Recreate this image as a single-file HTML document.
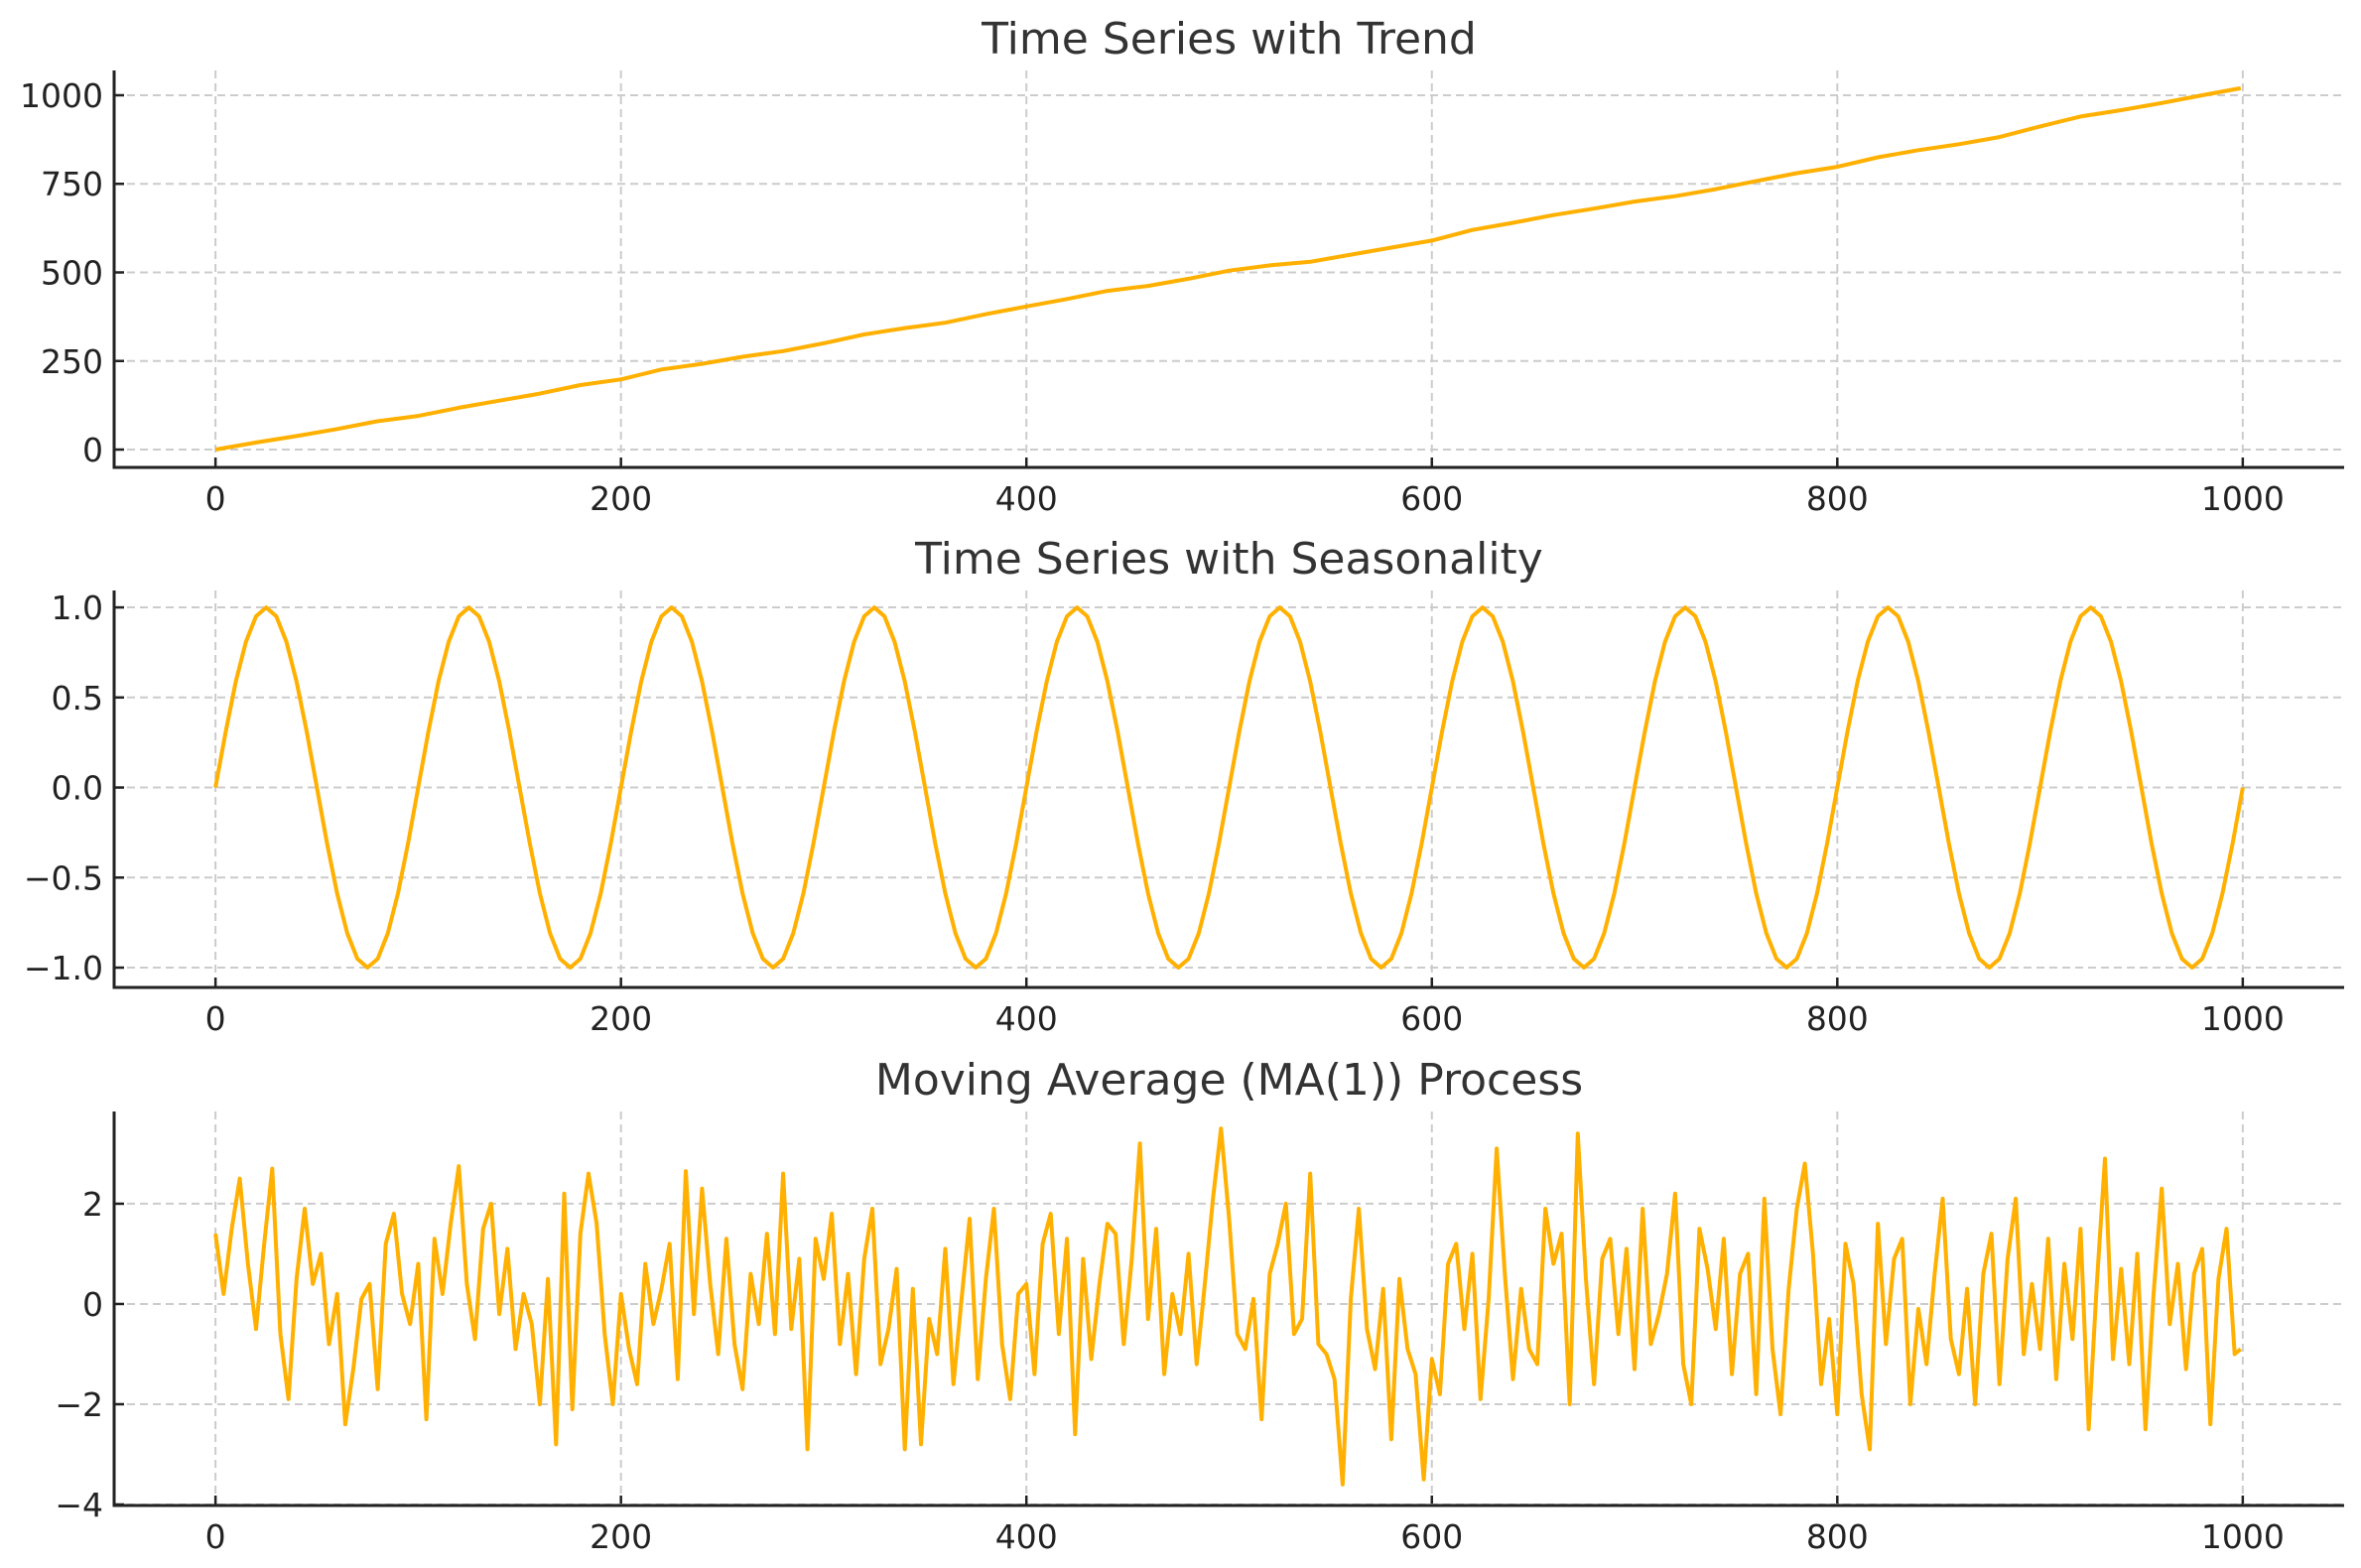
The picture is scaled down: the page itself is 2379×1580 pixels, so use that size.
<!DOCTYPE html>
<html><head><meta charset="utf-8"><style>html,body{margin:0;padding:0;background:#fff}svg{display:block}</style></head>
<body>
<svg id="chart" xmlns="http://www.w3.org/2000/svg" width="2379" height="1580" viewBox="0 0 2379 1580" font-family="'DejaVu Sans','Liberation Sans',sans-serif"></svg>
<script>
const xTicks = [0, 200, 400, 600, 800, 1000];
const trendX = [0,20,40,60,80,100,120,140,160,180,200,220,240,260,280,300,320,340,360,380,400,420,440,460,480,500,520,540,560,580,600,620,640,660,680,700,720,740,760,780,800,820,840,860,880,900,920,940,960,980,999];
const trendY = [0,20,38,58,80,95,118,138,158,182,198,226,242,262,278,300,325,343,358,382,404,425,448,462,482,505,520,530,550,570,590,620,640,662,680,700,715,735,758,780,798,825,845,862,882,912,940,958,978,1000,1020];
const trendTicks = [0, 250, 500, 750, 1000];
const seasonY = [0,.309,.588,.809,.951,1,.951,.809,.588,.309,0,-.309,-.588,-.809,-.951,-1,-.951,-.809,-.588,-.309,
0,.309,.588,.809,.951,1,.951,.809,.588,.309,0,-.309,-.588,-.809,-.951,-1,-.951,-.809,-.588,-.309,
0,.309,.588,.809,.951,1,.951,.809,.588,.309,0,-.309,-.588,-.809,-.951,-1,-.951,-.809,-.588,-.309,
0,.309,.588,.809,.951,1,.951,.809,.588,.309,0,-.309,-.588,-.809,-.951,-1,-.951,-.809,-.588,-.309,
0,.309,.588,.809,.951,1,.951,.809,.588,.309,0,-.309,-.588,-.809,-.951,-1,-.951,-.809,-.588,-.309,
0,.309,.588,.809,.951,1,.951,.809,.588,.309,0,-.309,-.588,-.809,-.951,-1,-.951,-.809,-.588,-.309,
0,.309,.588,.809,.951,1,.951,.809,.588,.309,0,-.309,-.588,-.809,-.951,-1,-.951,-.809,-.588,-.309,
0,.309,.588,.809,.951,1,.951,.809,.588,.309,0,-.309,-.588,-.809,-.951,-1,-.951,-.809,-.588,-.309,
0,.309,.588,.809,.951,1,.951,.809,.588,.309,0,-.309,-.588,-.809,-.951,-1,-.951,-.809,-.588,-.309,
0,.309,.588,.809,.951,1,.951,.809,.588,.309,0,-.309,-.588,-.809,-.951,-1,-.951,-.809,-.588,-.309,0];
const seasonStep = 5;
const seasonTicks = [-1.0, -0.5, 0.0, 0.5, 1.0];
const seasonTickLabels = ["\u22121.0", "\u22120.5", "0.0", "0.5", "1.0"];
const maY = [1.4,0.2,1.5,2.5,0.8,-0.5,1.2,2.7,-0.6,-1.9,0.5,1.9,0.4,1.0,-0.8,0.2,-2.4,-1.3,0.1,0.4,-1.7,1.2,1.8,0.2,-0.4,
0.8,-2.3,1.3,0.2,1.6,2.75,0.4,-0.7,1.5,2.0,-0.2,1.1,-0.9,0.2,-0.4,-2.0,0.5,-2.8,2.2,-2.1,1.4,2.6,1.6,-0.6,-2.0,
0.2,-0.9,-1.6,0.8,-0.4,0.3,1.2,-1.5,2.65,-0.2,2.3,0.4,-1.0,1.3,-0.8,-1.7,0.6,-0.4,1.4,-0.6,2.6,-0.5,0.9,-2.9,1.3,
0.5,1.8,-0.8,0.6,-1.4,0.9,1.9,-1.2,-0.5,0.7,-2.9,0.3,-2.8,-0.3,-1.0,1.1,-1.6,0.1,1.7,-1.5,0.5,1.9,-0.8,-1.9,0.2,
0.4,-1.4,1.2,1.8,-0.6,1.3,-2.6,0.9,-1.1,0.4,1.6,1.4,-0.8,0.9,3.2,-0.3,1.5,-1.4,0.2,-0.6,1.0,-1.2,0.4,2.1,3.5,
1.7,-0.6,-0.9,0.1,-2.3,0.6,1.2,2.0,-0.6,-0.3,2.6,-0.8,-1.0,-1.5,-3.6,0.1,1.9,-0.5,-1.3,0.3,-2.7,0.5,-0.9,-1.4,-3.5,
-1.1,-1.8,0.8,1.2,-0.5,1.0,-1.9,0.1,3.1,0.6,-1.5,0.3,-0.9,-1.2,1.9,0.8,1.4,-2.0,3.4,0.5,-1.6,0.9,1.3,-0.6,1.1,
-1.3,1.9,-0.8,-0.2,0.6,2.2,-1.2,-2.0,1.5,0.7,-0.5,1.3,-1.4,0.6,1.0,-1.8,2.1,-0.9,-2.2,0.3,1.9,2.8,1.0,-1.6,-0.3,
-2.2,1.2,0.4,-1.8,-2.9,1.6,-0.8,0.9,1.3,-2.0,-0.1,-1.2,0.6,2.1,-0.7,-1.4,0.3,-2.0,0.6,1.4,-1.6,0.9,2.1,-1.0,0.4,
-0.9,1.3,-1.5,0.8,-0.7,1.5,-2.5,0.4,2.9,-1.1,0.7,-1.2,1.0,-2.5,0.2,2.3,-0.4,0.8,-1.3,0.6,1.1,-2.4,0.5,1.5,-1.0,-0.9];
const maStep = 4;
const maTicks = [-4, -2, 0, 2];
const maTickLabels = ["\u22124", "\u22122", "0", "2"];
const titles = ["Time Series with Trend", "Time Series with Seasonality", "Moving Average (MA(1)) Process"];

const NS = "http://www.w3.org/2000/svg";
const svg = document.getElementById('chart');
function mk(tag, attrs, parent) { const e = document.createElementNS(NS, tag); for (const k in attrs) e.setAttribute(k, attrs[k]); (parent || svg).appendChild(e); return e; }

const L = 115, R = 2362, xMin = -50, xMax = 1050;
function xs(v) { return L + (v - xMin) / (xMax - xMin) * (R - L); }

function panel(idx, top, bottom, yMin, yMax, ticks, labels, xv, yv, titleY) {
  const g = mk('g', {});
  
  
  const ys = v => bottom - (v - yMin) / (yMax - yMin) * (bottom - top);
  xTicks.forEach(t => {
    const gl = mk('line', {x1: xs(t), x2: xs(t), y1: top, y2: bottom, stroke: '#cccccc', 'stroke-width': 2, 'stroke-dasharray': '8,5'}, g);
    
    
    const tk = mk('line', {x1: xs(t), x2: xs(t), y1: bottom, y2: bottom - 10, stroke: '#222', 'stroke-width': 2.5}, g);
    
    
    const tl = mk('text', {x: xs(t), y: bottom + 43, 'text-anchor': 'middle', 'font-size': 33, fill: '#222'}, g);
    tl.textContent = String(t);
    
    
  });
  ticks.forEach((t, i) => {
    const gl = mk('line', {x1: L, x2: R, y1: ys(t), y2: ys(t), stroke: '#cccccc', 'stroke-width': 2, 'stroke-dasharray': '8,5'}, g);
    
    
    const tk = mk('line', {x1: L, x2: L + 10, y1: ys(t), y2: ys(t), stroke: '#222', 'stroke-width': 2.5}, g);
    
    
    const tl = mk('text', {x: L - 11, y: ys(t) + 12, 'text-anchor': 'end', 'font-size': 33, fill: '#222'}, g);
    tl.textContent = labels[i];
    
    
  });
  let d = '';
  yv.forEach((v, i) => { d += (i ? 'L' : 'M') + xs(xv(i)).toFixed(1) + ',' + ys(v).toFixed(1); });
  const p = mk('path', {d: d, fill: 'none', stroke: '#ffb000', 'stroke-width': 4, 'stroke-linejoin': 'round'}, g);
  
  
  const sl = mk('line', {x1: L, x2: L, y1: top, y2: bottom + 1.5, stroke: '#222', 'stroke-width': 3}, g);
  
  
  const sb = mk('line', {x1: L - 1.5, x2: R, y1: bottom, y2: bottom, stroke: '#222', 'stroke-width': 3}, g);
  
  
  const tt = mk('text', {x: (L + R) / 2, y: titleY, 'text-anchor': 'middle', 'font-size': 44, fill: '#333'}, g);
  tt.textContent = titles[idx];
  
  
}

panel(0, 71, 471, -50.4, 1070, trendTicks, trendTicks.map(String), i => trendX[i], trendY, 54);
panel(1, 595, 995, -1.11, 1.094, seasonTicks, seasonTickLabels, i => i * seasonStep, seasonY, 578);
panel(2, 1120, 1517, -4.02, 3.84, maTicks, maTickLabels, i => Math.min(i * maStep, 999), maY, 1103);
</script>
</body></html>
